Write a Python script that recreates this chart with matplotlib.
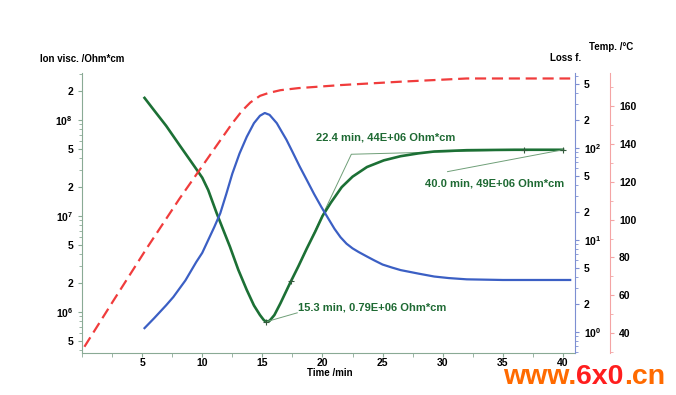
import numpy as np
import matplotlib
matplotlib.use("Agg")
import matplotlib.pyplot as plt
from matplotlib.ticker import LogLocator, FuncFormatter, NullFormatter, MultipleLocator

FONT = ["Liberation Sans Narrow", "Liberation Sans", "DejaVu Sans"]
plt.rcParams["font.family"] = FONT
plt.rcParams["font.weight"] = "bold"

# ion viscosity (Ohm*cm)
t_visc = [5.2, 6.0, 7.0, 8.1, 9.0, 9.5, 10.0, 10.5, 11.2, 11.8, 12.3, 13.0, 13.7, 14.3,
          14.8, 15.1, 15.3, 15.6, 16.0, 16.5, 17.3, 18.0, 18.7, 19.4, 20.0, 20.7, 21.6,
          22.5, 23.7, 25.1, 26.5, 28.0, 29.3, 32.0, 36.0, 40.0]
visc = [1.70e8, 1.26e8, 8.7e7, 5.5e7, 3.8e7, 3.09e7, 2.51e7, 1.86e7, 1.07e7, 6.9e6,
        4.8e6, 2.75e6, 1.70e6, 1.17e6, 0.93e6, 0.83e6, 0.79e6, 0.81e6, 0.93e6, 1.23e6,
        2.0e6, 3.0e6, 4.6e6, 6.9e6, 1.0e7, 1.38e7, 2.0e7, 2.57e7, 3.24e7, 3.8e7, 4.2e7,
        4.5e7, 4.7e7, 4.85e7, 4.9e7, 4.9e7]

# loss factor
t_loss = [5.2, 6.0, 7.0, 7.6, 8.6, 9.5, 10.0, 10.5, 11.0, 11.5, 12.0, 12.5, 13.1, 13.7,
          14.3, 14.8, 15.2, 15.6, 16.2, 16.6, 17.0, 17.5, 18.1, 18.7, 19.3, 19.9, 20.4,
          21.0, 21.5, 22.0, 22.5, 23.0, 23.7, 24.3, 25.0, 25.8, 26.5, 28.0, 29.3, 30.5,
          32.0, 35.0, 38.0, 40.6]
loss = [1.10, 1.41, 1.95, 2.40, 3.63, 5.75, 7.24, 10.0, 13.8, 19.5, 31.6, 52.5, 87, 132,
        186, 224, 240, 229, 186, 151, 123, 91, 63, 44.7, 31.6, 22.9, 17.8, 13.2, 10.7, 9.1,
        8.1, 7.4, 6.6, 6.0, 5.4, 5.0, 4.7, 4.3, 4.0, 3.85, 3.73, 3.67, 3.67, 3.67]

# temperature (deg C)
t_temp = [0.2, 2.6, 5.4, 8.1, 10.9, 12.5, 13.3, 14.0, 14.8, 15.5, 16.5, 18.0, 21.5,
          26.5, 32.0, 36.0, 40.6]
temp = [32.7, 57, 85, 111, 136.5, 151, 157.5, 162, 165.5, 167, 168.5, 169.6, 171.2,
        173, 174.7, 174.7, 174.7]

# annotations
ann_min = (15.3, 0.79e6)
ann_gel = [(17.4, 2.1e6), (22.4, 4.4e7), (36.75, 4.9e7)]
ann_end = (40.0, 4.9e7)

GREEN = "#1c7035"
TXT_GREEN = "#1e6a33"
BLUE = "#3b5fc4"
RED = "#f03c3c"
THIN = "#6f9f78"

fig = plt.figure(figsize=(6.76, 3.95), dpi=100)
ax = fig.add_axes([82 / 676, 1 - 353 / 395, (575 - 82) / 676, (353 - 73) / 395])
ax2 = ax.twinx()
ax3 = ax.twinx()
ax3.spines["right"].set_position(("outward", 35 * 72 / 100))


def log_fmt(v, pos):
    e = int(np.floor(np.log10(v) + 1e-9))
    m = int(round(v / 10 ** e))
    if m == 1:
        return r"$\mathregular{10^{%d}}$" % e
    return str(m)


# ion viscosity
ax.plot(t_visc, visc, color=GREEN, lw=1.9, zorder=3)
ax.set_yscale("log")
ax.set_ylim(3.74e5, 3.09e8)
ax.set_xlim(0, 41)
ax.yaxis.set_major_locator(LogLocator(subs=(1, 2, 5)))
ax.yaxis.set_minor_locator(LogLocator(subs=(3, 4, 6, 7, 8, 9)))
ax.yaxis.set_major_formatter(FuncFormatter(log_fmt))
ax.yaxis.set_minor_formatter(NullFormatter())
ax.xaxis.set_major_locator(MultipleLocator(5))
ax.xaxis.set_minor_locator(MultipleLocator(2.5))
ax.set_xticks([5, 10, 15, 20, 25, 30, 35, 40])

# loss factor
ax2.plot(t_loss, loss, color=BLUE, lw=1.6, zorder=2)
ax2.set_yscale("log")
ax2.set_ylim(0.59, 653)
ax2.yaxis.set_major_locator(LogLocator(subs=(1, 2, 5)))
ax2.yaxis.set_minor_locator(LogLocator(subs=(3, 4, 6, 7, 8, 9)))
ax2.yaxis.set_major_formatter(FuncFormatter(log_fmt))
ax2.yaxis.set_minor_formatter(NullFormatter())

# temperature
ax3.plot(t_temp, temp, color=RED, lw=1.6, ls=(0, (5, 2.6)))
ax3.set_ylim(29.4, 177.6)
ax3.yaxis.set_major_locator(MultipleLocator(20))
ax3.yaxis.set_minor_locator(MultipleLocator(10))
ax3.set_yticks([40, 60, 80, 100, 120, 140, 160])

for a in (ax, ax2, ax3):
    a.spines["top"].set_visible(False)
    a.patch.set_visible(False)
for a in (ax2, ax3):
    a.spines["left"].set_visible(False)
    a.spines["bottom"].set_visible(False)
ax.spines["right"].set_visible(False)
ax.spines["left"].set_color("#8aaa95")
ax.spines["bottom"].set_color("#8aaa95")
ax2.spines["right"].set_color("#7d8fd2")
ax3.spines["right"].set_color("#f4a4a4")

ax.tick_params(axis="both", which="major", length=3, labelsize=7.5, colors="#8aaa95",
               labelcolor="black")
ax.tick_params(axis="both", which="minor", length=2, colors="#8aaa95")
ax.tick_params(axis="x", which="both", length=3, pad=0.8)
ax2.tick_params(which="major", length=3, labelsize=7.5, colors="#7d8fd2", labelcolor="black")
ax2.tick_params(which="minor", length=2, colors="#7d8fd2")
ax3.tick_params(which="major", length=3, labelsize=7.5, colors="#f4a4a4", labelcolor="black")
ax3.tick_params(which="minor", length=2, colors="#f4a4a4")

# annotations
ax.plot([ann_min[0], 17.9], [ann_min[1], 0.98e6], color=THIN, lw=0.7, zorder=4)
ax.plot(*ann_min, marker="+", color="#335a3c", ms=5, mew=0.8, zorder=5)
ax.text(18.0, 1.12e6, "15.3 min, 0.79E+06 Ohm*cm", color=TXT_GREEN, fontsize=8,
        fontweight="bold", va="center", ha="left")

gx, gy = zip(*ann_gel)
ax.plot(gx, gy, color=THIN, lw=0.7, zorder=2)
ax.plot([gx[0], gx[2]], [gy[0], gy[2]], ls="none", marker="+", color="#335a3c",
        ms=5, mew=0.8, zorder=5)
ax.text(19.5, 6.5e7, "22.4 min, 44E+06 Ohm*cm", color=TXT_GREEN, fontsize=8,
        fontweight="bold", va="center", ha="left")

ax.plot([ann_end[0], 30.4], [ann_end[1], 2.9e7], color=THIN, lw=0.7, zorder=4)
ax.plot(*ann_end, marker="+", color="#335a3c", ms=5, mew=0.8, zorder=5)
ax.text(28.5, 2.2e7, "40.0 min, 49E+06 Ohm*cm", color=TXT_GREEN, fontsize=8,
        fontweight="bold", va="center", ha="left")

# axis titles
fig.text(82 / 676, 1 - 59 / 395, "Ion visc. /Ohm*cm", fontsize=7, fontweight="bold",
         ha="center", va="center")
fig.text(581 / 676, 1 - 58 / 395, "Loss f.", fontsize=7, fontweight="bold",
         ha="right", va="center")
fig.text(611 / 676, 1 - 47 / 395, "Temp. /°C", fontsize=7, fontweight="bold",
         ha="center", va="center")
fig.text(330 / 676, 1 - 373.5 / 395, "Time /min", fontsize=7, fontweight="bold",
         ha="center", va="center")

# watermark
wm_font = ["Liberation Sans", "DejaVu Sans"]
wm_y = 1 - 377 / 395
wm = fig.text(503 / 676, wm_y, "www.", fontsize=20.5, fontweight="bold",
              color="#ff6a00", family=wm_font, va="center")
fig.canvas.draw()
bb = wm.get_window_extent()
wm2 = fig.text(bb.x1 / 676, wm_y, "6x0", fontsize=20.5, fontweight="bold",
               color="#ff1e1e", family=wm_font, va="center")
fig.canvas.draw()
bb2 = wm2.get_window_extent()
fig.text(bb2.x1 / 676, wm_y, ".cn", fontsize=20.5, fontweight="bold",
         color="#ff6a00", family=wm_font, va="center")

fig.savefig("out.png", dpi=100)
